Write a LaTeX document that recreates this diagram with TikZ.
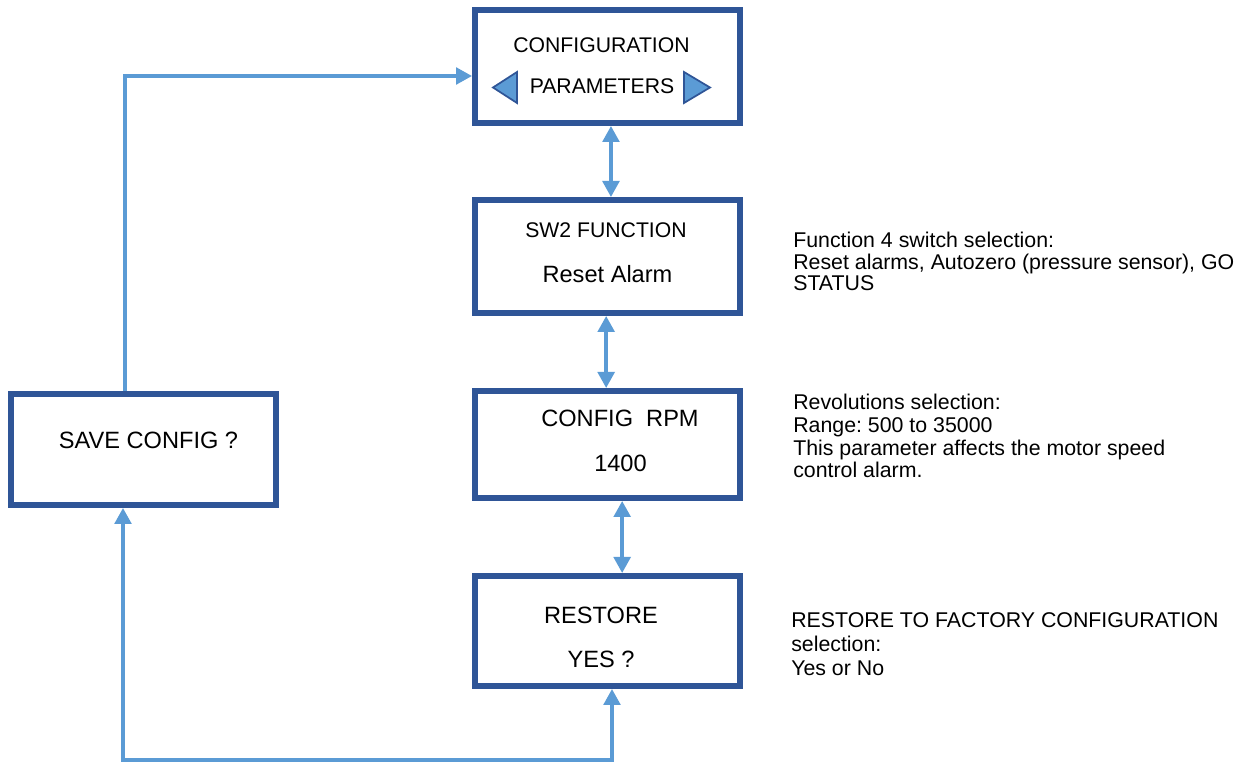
\documentclass[tikz,border=0pt]{standalone}
\usepackage{fontspec}
\setmainfont{Liberation Sans}
\usetikzlibrary{arrows.meta}
\definecolor{boxblue}{HTML}{2F5597}
\definecolor{linkblue}{HTML}{5B9BD5}
\frenchspacing
\begin{document}
\begin{tikzpicture}[x=0.75pt,y=-0.75pt,
  box/.style={draw=boxblue, line width=4.5pt, fill=white, inner sep=0pt, minimum width=198.75pt},
  link/.style={draw=linkblue, line width=2.6pt},
  arrowtip/.style={-{Triangle[length=12pt,width=12.5pt]}},
  bothtips/.style={{Triangle[length=12pt,width=12.5pt]}-{Triangle[length=12pt,width=12.5pt]}},
  smalltxt/.style={font=\fontsize{15.9}{18}\selectfont, inner sep=0pt, anchor=base},
  bigtxt/.style={font=\fontsize{17.7}{20}\selectfont, inner sep=0pt, anchor=base},
  sidetxt/.style={inner sep=0pt, anchor=base west, align=left},
  navtri/.style={draw=boxblue, fill=linkblue, line width=1.3pt, line join=miter}]
\useasboundingbox (0,0) rectangle (1240,762);

% boxes
\node[box, minimum height=84.75pt] (cfg) at (607.5,66.5) {};
\node[box, minimum height=84.75pt] (sw) at (607.5,256.5) {};
\node[box, minimum height=80.25pt] (rpm) at (607.5,444.5) {};
\node[box, minimum height=82.5pt] (rst) at (607.5,631) {};
\node[box, minimum height=83.25pt] (save) at (143.5,449.5) {};

% box texts
\node[smalltxt] (cfgA) at (601.5,53) {CONFIGURATION};
\node[smalltxt] (cfgB) at (602,94) {PARAMETERS};
\node[smalltxt] (swA) at (606,238) {SW2 FUNCTION};
\node[bigtxt] (swB) at (607.5,283) {Reset Alarm};
\node[bigtxt] (rpmA) at (620,427) {CONFIG\ \ RPM};
\node[bigtxt] (rpmB) at (620.5,472) {1400};
\node[bigtxt] (rstA) at (601,624) {RESTORE};
\node[bigtxt] (rstB) at (601,668) {YES ?};
\node[bigtxt] (saveA) at (148.5,449) {SAVE CONFIG ?};

% navigation triangles
\draw[navtri] (493,87.5) -- (517,72) -- (517,103) -- cycle;
\draw[navtri] (710,87.5) -- (684,72) -- (684,103) -- cycle;

% side descriptions (anchored at the baseline of the last line)
\node[sidetxt, font=\fontsize{16}{16.3}\selectfont] (d1) at (793,291)
  {Function 4 switch selection:\\Reset alarms, Autozero (pressure sensor), GO\\STATUS};
\node[sidetxt, font=\fontsize{16}{17}\selectfont] (d2) at (793,478)
  {Revolutions selection:\\Range: 500 to 35000\\This parameter affects the motor speed\\control alarm.};
\node[sidetxt, font=\fontsize{16}{18}\selectfont] (d3) at (791,676)
  {RESTORE TO FACTORY CONFIGURATION\\selection:\\Yes or No};

% vertical double arrows
\draw[link, bothtips] ([xshift=2.6pt]cfg.south) -- ([xshift=2.6pt]sw.north);
\draw[link, bothtips] ([xshift=-1pt]sw.south) -- ([xshift=-1pt]rpm.north);
\draw[link, bothtips] ([xshift=11pt]rpm.south) -- ([xshift=11pt]rst.north);

% loop connectors
\coordinate (lt) at (125,76);
\draw[link, arrowtip] (save.north -| lt) -- (lt) -- (lt -| cfg.west);
\coordinate (lb) at (123,760);
\coordinate (rb) at (612,760);
\draw[link, bothtips] (rb |- rst.south) -- (rb) -- (lb) -- (lb |- save.south);
\end{tikzpicture}
\end{document}
